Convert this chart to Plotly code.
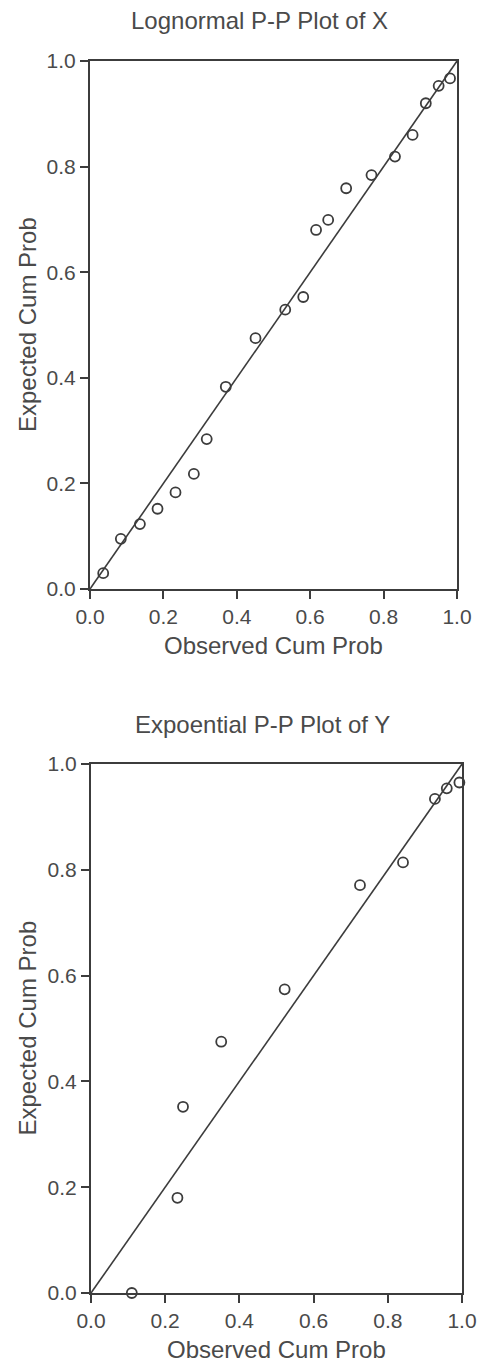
import plotly.graph_objects as go

W, H = 481, 1365

# ---- data ----
x_obs = [0.036, 0.084, 0.136, 0.184, 0.233, 0.283, 0.318, 0.370, 0.451, 0.532,
         0.581, 0.616, 0.649, 0.698, 0.767, 0.831, 0.879, 0.915, 0.950, 0.981]
x_exp = [0.030, 0.095, 0.123, 0.152, 0.183, 0.218, 0.284, 0.383, 0.475, 0.529,
         0.553, 0.680, 0.699, 0.759, 0.784, 0.819, 0.860, 0.920, 0.953, 0.967]

y_obs = [0.110, 0.233, 0.248, 0.351, 0.522, 0.725, 0.841, 0.927, 0.959, 0.993]
y_exp = [0.000, 0.180, 0.352, 0.475, 0.574, 0.771, 0.814, 0.934, 0.954, 0.965]

ref_line = [0.0, 1.0]
tick_vals = [0.0, 0.2, 0.4, 0.6, 0.8, 1.0]
tick_text = ["0.0", "0.2", "0.4", "0.6", "0.8", "1.0"]

titles = ["Lognormal P-P Plot of X", "Expoential P-P Plot of Y"]
x_title = "Observed Cum Prob"
y_title = "Expected Cum Prob"

INK = "#3c3c3c"
TXT = "#4a4a4a"
FONT = "Liberation Sans, Arial, sans-serif"

# pixel layout of plot areas: (left, right, top, bottom)
boxes = [(90, 457, 61, 589), (91, 462, 764, 1293)]

def px(x):
    return x / W

def py(y):
    return 1 - y / H

fig = go.Figure()

datasets = [(x_obs, x_exp), (y_obs, y_exp)]
for i, ((ox, ex), (l, r, t, b)) in enumerate(zip(datasets, boxes)):
    xa = "x" if i == 0 else "x2"
    ya = "y" if i == 0 else "y2"
    fig.add_trace(go.Scatter(x=ref_line, y=ref_line, mode="lines",
                             line=dict(color=INK, width=1.6),
                             xaxis=xa, yaxis=ya, showlegend=False,
                             hoverinfo="skip"))
    fig.add_trace(go.Scatter(x=ox, y=ex, mode="markers",
                             marker=dict(symbol="circle-open", size=10,
                                         color=INK, line=dict(width=1.8, color=INK)),
                             xaxis=xa, yaxis=ya, showlegend=False,
                             cliponaxis=False))
    axis_common = dict(range=[0, 1], tickvals=tick_vals, ticktext=tick_text,
                       showgrid=False, zeroline=False, showline=True,
                       linecolor=INK, linewidth=2, mirror=True,
                       ticks="outside", ticklen=8, tickwidth=1.5, tickcolor=INK,
                       tickfont=dict(family=FONT, size=21, color=TXT),
                       automargin=False, fixedrange=True)
    xkey = "xaxis" if i == 0 else "xaxis2"
    ykey = "yaxis" if i == 0 else "yaxis2"
    fig.update_layout({
        xkey: dict(domain=[px(l), px(r)], anchor=ya, **axis_common),
        ykey: dict(domain=[py(b), py(t)], anchor=xa, **axis_common),
    })
    cx = (l + r) / 2
    cy = (t + b) / 2
    # chart title
    fig.add_annotation(text=titles[i], xref="paper", yref="paper",
                       x=px(cx - 14), y=py(t - 40), showarrow=False,
                       xanchor="center", yanchor="middle",
                       font=dict(family=FONT, size=24, color=TXT))
    # x axis title
    fig.add_annotation(text=x_title, xref="paper", yref="paper",
                       x=px(cx), y=py(b + 56), showarrow=False,
                       xanchor="center", yanchor="middle",
                       font=dict(family=FONT, size=24, color=TXT))
    # y axis title
    fig.add_annotation(text=y_title, xref="paper", yref="paper",
                       x=px(27), y=py(cy), showarrow=False, textangle=-90,
                       xanchor="center", yanchor="middle",
                       font=dict(family=FONT, size=24, color=TXT))

fig.update_layout(template="none", width=W, height=H,
                  margin=dict(l=0, r=0, t=0, b=0, pad=0, autoexpand=False),
                  paper_bgcolor="white", plot_bgcolor="white",
                  showlegend=False)

fig.write_html("out.html", config={"displayModeBar": False})
